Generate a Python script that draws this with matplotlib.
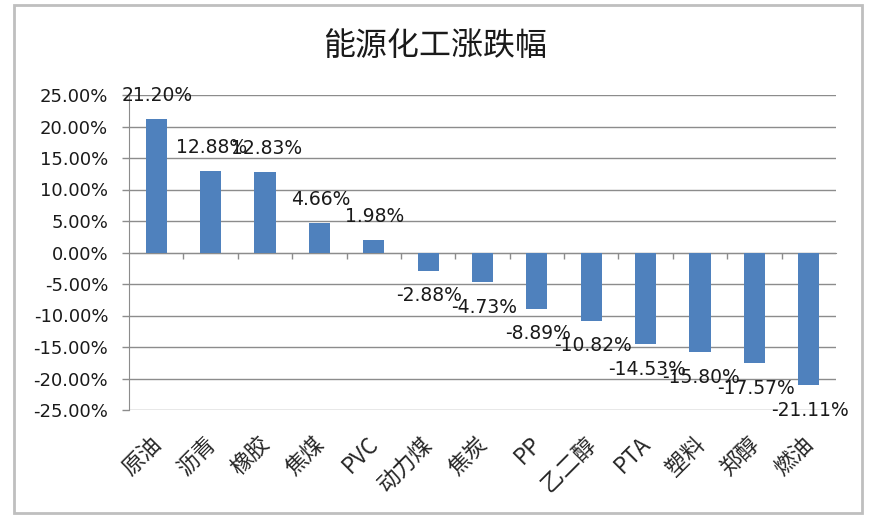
import matplotlib
matplotlib.use('Agg')
import matplotlib.pyplot as plt
from matplotlib.patches import Rectangle

plt.rcParams['font.family'] = ['DejaVu Sans', 'Noto Sans CJK SC']

# 能源化工品种涨跌幅 (%)
categories = ['原油', '沥青', '橡胶', '焦煤', 'PVC', '动力煤', '焦炭', 'PP',
              '乙二醇', 'PTA', '塑料', '郑醇', '燃油']
changes = [21.20, 12.88, 12.83, 4.66, 1.98, -2.88, -4.73, -8.89,
           -10.82, -14.53, -15.80, -17.57, -21.11]
yticks = [25, 20, 15, 10, 5, 0, -5, -10, -15, -20, -25]

barColor = '#4F81BD'
gridColor = '#8C8C8C'

fig = plt.figure(figsize=(8.71, 5.17), dpi=100)
ax = fig.add_axes([129 / 871, 1 - 410 / 517, (836 - 129) / 871, (410 - 95) / 517])

x = list(range(len(categories)))
ax.bar(x, changes, width=0.39, color=barColor, zorder=3)

ax.set_xlim(-0.5, len(categories) - 0.5)
ax.set_ylim(-25, 25)
ax.set_yticks(yticks)
ax.set_yticklabels([f'{v:.2f}%' for v in yticks], fontsize=13, color='#1a1a1a')
ax.tick_params(axis='y', length=5, width=1, color=gridColor, pad=10)
for v in yticks:
    ax.axhline(v, color=gridColor, lw=1, zorder=1)

# x axis sits at zero, with tick marks between categories
ax.spines['bottom'].set_position(('data', 0))
ax.spines['bottom'].set_color(gridColor)
ax.spines['left'].set_color(gridColor)
ax.spines['top'].set_visible(False)
ax.spines['right'].set_visible(False)
ax.set_xticks([i + 0.5 for i in x[:-1]])
ax.set_xticklabels([])
ax.tick_params(axis='x', length=4, width=1, color=gridColor, direction='out')

# category labels under the plot area
for i, name in enumerate(categories):
    ax.annotate(name, xy=(i, 0), xycoords=('data', 'axes fraction'),
                xytext=(-5, -16), textcoords='offset points',
                ha='right', va='top', rotation=45, rotation_mode='anchor',
                fontsize=16, family=['Noto Sans CJK SC'], color='#262626')

# data labels
for i, v in enumerate(changes):
    off = 17 if v >= 0 else -18
    ax.annotate(f'{v:.2f}%', xy=(i, v), xytext=(1, off), textcoords='offset points',
                ha='center', va='center', fontsize=13.5, color='#1a1a1a', zorder=4)

fig.text(435 / 871, 1 - 46 / 517, '能源化工涨跌幅', ha='center', va='center',
         fontsize=23, family=['Noto Sans CJK SC'], color='#1a1a1a')

fig.patches.append(Rectangle((14 / 871, 1 - 513 / 517), (862 - 14) / 871, (513 - 5) / 517,
                             transform=fig.transFigure, fill=False,
                             edgecolor='#BFBFBF', lw=2))

fig.savefig('out.png', dpi=100)
